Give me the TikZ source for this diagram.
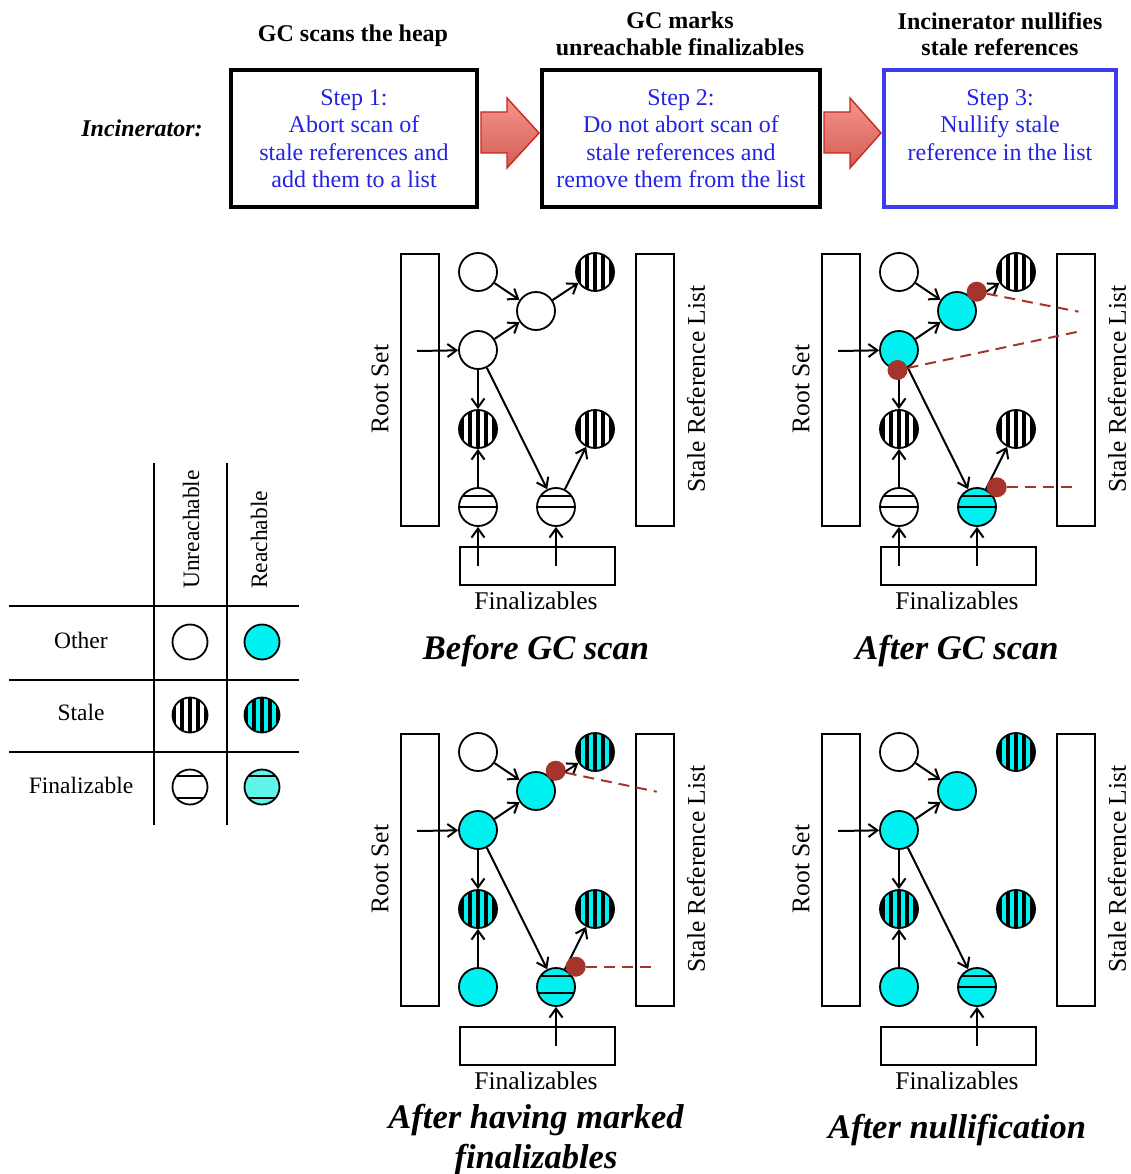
\documentclass[tikz,border=0pt]{standalone}
\usepackage{fontspec}
\setmainfont{Liberation Serif}
\usetikzlibrary{arrows.meta}
\definecolor{cy}{RGB}{0,242,240}
\definecolor{cyl}{RGB}{95,245,235}
\definecolor{dotc}{RGB}{165,52,45}
\definecolor{stepblue}{RGB}{35,35,225}
\definecolor{boxblue}{RGB}{60,60,235}
\definecolor{arrtop}{RGB}{244,150,140}
\definecolor{arrbot}{RGB}{212,92,85}
\definecolor{arredge}{RGB}{200,40,30}
\tikzset{
 obj/.style={circle, draw, line width=1.8pt, minimum size=38pt, inner sep=0pt, fill=white},
 live/.style={obj, fill=cy},
 stripes/.style={path picture={\foreach \dx in {-16,-8,0,8,16}{\draw[line width=4pt] ([xshift=\dx pt]path picture bounding box.north) -- ([xshift=\dx pt]path picture bounding box.south);}}},
 hlines/.style 2 args={path picture={\draw[line width=1.8pt] ([yshift=#1]path picture bounding box.west) -- ([yshift=#1]path picture bounding box.east); \draw[line width=1.8pt] ([yshift=#2]path picture bounding box.west) -- ([yshift=#2]path picture bounding box.east);}},
 fin/.style={hlines={11pt}{0pt}},
 rectbox/.style={draw, line width=1.8pt, inner sep=0pt},
 lbl/.style={inner sep=0pt, font=\fontsize{25.5}{28}\selectfont},
 ttl/.style={inner sep=0pt, align=center, font=\fontsize{34.5}{40}\selectfont\bfseries\itshape},
 hdr/.style={inner sep=0pt, align=center, font=\fontsize{24}{26.5}\selectfont\bfseries},
 stepbox/.style={draw, line width=4pt, inner sep=0pt, minimum height=137pt, align=center, text=stepblue, font=\fontsize{24}{27.5}\selectfont},
 link/.style={line width=2pt, -{Straight Barb[length=9pt,width=13pt]}},
 rdot/.style={circle, fill=dotc, minimum size=20pt, inner sep=0pt},
 rdash/.style={draw=dotc, line width=2pt, dash pattern=on 11pt off 7pt},
 bigarrow/.style={draw=arredge, line width=1.4pt, top color=arrtop, bottom color=arrbot},
 leg/.style={inner sep=0pt, font=\fontsize{23.5}{26}\selectfont},
 lobj/.style={obj, minimum size=35pt},
}
\newcommand{\panelframe}[1]{%
 \node[rectbox, minimum width=38.2pt, minimum height=272.2pt] (#1root) at (420,390) {};
 \node[rectbox, minimum width=38.2pt, minimum height=272.2pt] (#1list) at (655,390) {};
 \node[rectbox, minimum width=155.2pt, minimum height=38.2pt] (#1fbox) at (537.5,566) {};
 \node[lbl, rotate=90] (#1rl) at (380,389) {Root Set};
 \node[lbl, rotate=90] (#1sl) at (696,389) {Stale Reference List};
 \node[lbl] (#1fl) at (536,601) {Finalizables};
 \coordinate (#1rs) at (417,351);
 \coordinate (#1f1) at (478,566);
 \coordinate (#1f2) at (556,566);
}
\begin{document}
\begin{tikzpicture}[x=1pt, y=-1pt]
\useasboundingbox (0,0) rectangle (1131,1174);
% ---------- top row ----------
\node[hdr] (h1) at (353,36) {GC scans the heap};
\node[hdr] (h2) at (680,34) {GC marks\\unreachable finalizables};
\node[hdr] (h3) at (1000,34) {Incinerator nullifies\\stale references};
\node[inner sep=0pt, font=\fontsize{24}{26}\selectfont\bfseries\itshape] (inc) at (142,128) {Incinerator:};
\node[stepbox, minimum width=246pt] (s1) at (354,138.5) {Step 1:\\Abort scan of\\stale references and\\add them to a list};
\node[stepbox, minimum width=278pt] (s2) at (681,138.5) {Step 2:\\Do not abort scan of\\stale references and\\remove them from the list};
\node[stepbox, draw=boxblue, minimum width=232pt] (s3) at (1000,138.5) {Step 3:\\Nullify stale\\reference in the list\\\mbox{}};
\path[bigarrow] (481,112) -- (507,112) -- (507,98) -- (539,133) -- (507,168) -- (507,153) -- (481,153) -- cycle;
\path[bigarrow] (824,112) -- (850,112) -- (850,98) -- (881,133) -- (850,168) -- (850,153) -- (824,153) -- cycle;
% ---------- legend ----------
\draw[line width=1.8pt] (154,463) -- (154,825) (227,463) -- (227,825)
  (9,606) -- (299,606) (9,680) -- (299,680) (9,752) -- (299,752);
\node[leg, rotate=90, anchor=west] (lu) at (191,589) {Unreachable};
\node[leg, rotate=90, anchor=west] (lr) at (259,589) {Reachable};
\node[leg] (lo) at (81,640) {Other};
\node[leg] (ls) at (81,712) {Stale};
\node[leg] (lf) at (81,785) {Finalizable};
\node[lobj] (lg1) at (190,642) {};
\node[lobj, fill=cy] (lg2) at (262,642) {};
\node[lobj, stripes] (lg3) at (190,715) {};
\node[lobj, fill=cy, stripes] (lg4) at (262,715) {};
\node[lobj, hlines={11pt}{-11pt}] (lg5) at (190,787) {};
\node[lobj, fill=cyl, hlines={11pt}{-11pt}] (lg6) at (262,787) {};
% ---------- panel 1 ----------
\begin{scope}
\panelframe{a}
\node[obj] (aA) at (478,272) {};
\node[obj] (aB) at (536,311) {};
\node[obj, stripes] (aC) at (595,272) {};
\node[obj] (aD) at (478,350) {};
\node[obj, stripes] (aE) at (478,429) {};
\node[obj, stripes] (aF) at (595,429) {};
\node[obj, fin] (aG) at (478,507) {};
\node[obj, fin] (aH) at (556,507) {};
\draw[link] (aA) -- (aB);
\draw[link] (aD) -- (aB);
\draw[link] (aB) -- (aC);
\draw[link] (aD) -- (aE);
\draw[link] (aD) -- (aH);
\draw[link] (aG) -- (aE);
\draw[link] (aH) -- (aF);
\draw[link] (ars) -- (aD);
\draw[link] (af1) -- (aG);
\draw[link] (af2) -- (aH);
\node[ttl] (at) at (536,651) {Before GC scan};
\end{scope}
% ---------- panel 2 ----------
\begin{scope}[shift={(421,0)}]
\panelframe{b}
\node[obj] (bA) at (478,272) {};
\node[live] (bB) at (536,311) {};
\node[obj, stripes] (bC) at (595,272) {};
\node[live] (bD) at (478,350) {};
\node[obj, stripes] (bE) at (478,429) {};
\node[obj, stripes] (bF) at (595,429) {};
\node[obj, fin] (bG) at (478,507) {};
\node[live, fin] (bH) at (556,507) {};
\draw[link] (bA) -- (bB);
\draw[link] (bD) -- (bB);
\draw[link] (bB) -- (bC);
\draw[link] (bD) -- (bE);
\draw[link] (bD) -- (bH);
\draw[link] (bG) -- (bE);
\draw[link] (bH) -- (bF);
\draw[link] (brs) -- (bD);
\draw[link] (bf1) -- (bG);
\draw[link] (bf2) -- (bH);
\node[rdot] (bd1) at (555.7,291.7) {};
\node[rdot] (bd2) at (476.5,370) {};
\node[rdot] (bd3) at (575.7,487.3) {};
\coordinate (be1) at (657.5,311.7);
\coordinate (be2) at (657,331.7);
\coordinate (be3) at (657,487.3);
\path[rdash] (bd1.center) ++(10,2) -- (be1);
\path[rdash] (bd2.center) ++(10,-2) -- (be2);
\path[rdash] (bd3.east) -- (be3);
\node[ttl] (bt) at (536,651) {After GC scan};
\end{scope}
% ---------- panel 3 ----------
\begin{scope}[shift={(0,480)}]
\panelframe{c}
\node[obj] (cA) at (478,272) {};
\node[live] (cB) at (536,311) {};
\node[live, stripes] (cC) at (595,272) {};
\node[live] (cD) at (478,350) {};
\node[live, stripes] (cE) at (478,429) {};
\node[live, stripes] (cF) at (595,429) {};
\node[live] (cG) at (478,507) {};
\node[live, hlines={11pt}{-6pt}] (cH) at (556,507) {};
\draw[link] (cA) -- (cB);
\draw[link] (cD) -- (cB);
\draw[link] (cB) -- (cC);
\draw[link] (cD) -- (cE);
\draw[link] (cD) -- (cH);
\draw[link] (cG) -- (cE);
\draw[link] (cH) -- (cF);
\draw[link] (crs) -- (cD);
\draw[link] (cf2) -- (cH);
\node[rdot] (cd1) at (555.7,290.7) {};
\node[rdot] (cd3) at (575.7,486.7) {};
\coordinate (ce1) at (656.7,311.7);
\coordinate (ce3) at (656.7,486.7);
\path[rdash] (cd1.center) ++(10,2) -- (ce1);
\path[rdash] (cd3.east) -- (ce3);
\node[ttl] (ct) at (536,660) {After having marked\\finalizables};
\end{scope}
% ---------- panel 4 ----------
\begin{scope}[shift={(421,480)}]
\panelframe{d}
\node[obj] (dA) at (478,272) {};
\node[live] (dB) at (536,311) {};
\node[live, stripes] (dC) at (595,272) {};
\node[live] (dD) at (478,350) {};
\node[live, stripes] (dE) at (478,429) {};
\node[live, stripes] (dF) at (595,429) {};
\node[live] (dG) at (478,507) {};
\node[live, fin] (dH) at (556,507) {};
\draw[link] (dA) -- (dB);
\draw[link] (dD) -- (dB);
\draw[link] (dD) -- (dE);
\draw[link] (dD) -- (dH);
\draw[link] (dG) -- (dE);
\draw[link] (drs) -- (dD);
\draw[link] (df2) -- (dH);
\node[ttl] (dt) at (536,650) {After nullification};
\end{scope}
\end{tikzpicture}
\end{document}
